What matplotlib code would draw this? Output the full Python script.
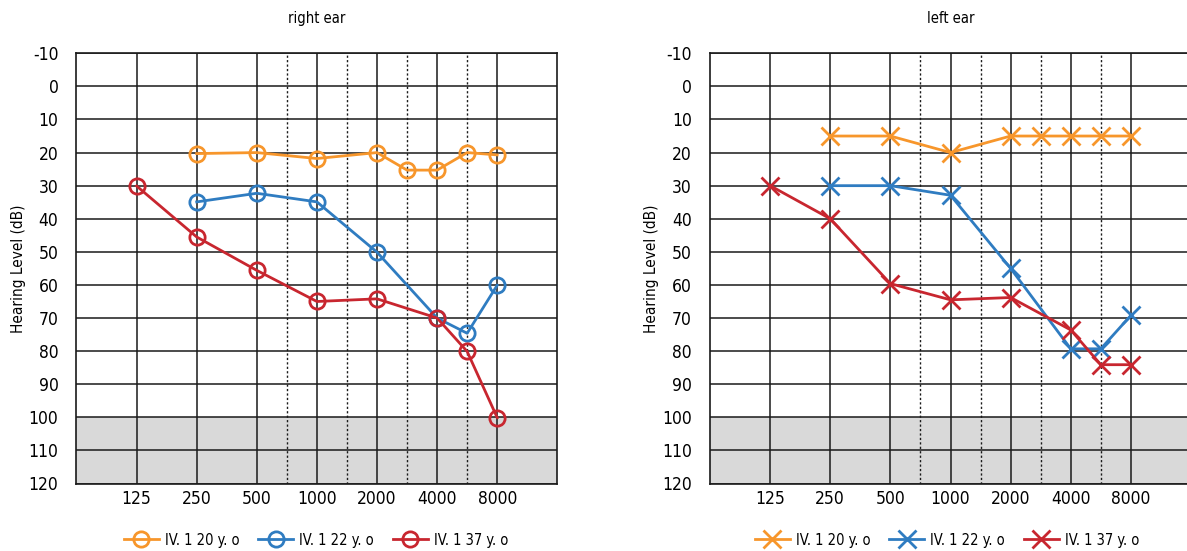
import matplotlib
matplotlib.use("Agg")
import matplotlib.pyplot as plt
from matplotlib import font_manager

# ---------------- data ----------------
freq_labels = ["125", "250", "500", "1000", "2000", "4000", "8000"]
half_octave = [750, 1500, 3000, 6000]
y_ticks = [-10, 0, 10, 20, 30, 40, 50, 60, 70, 80, 90, 100, 110, 120]
series_names = ["IV. 1 20 y. o", "IV. 1 22 y. o", "IV. 1 37 y. o"]

right_20_f = [250, 500, 1000, 2000, 3000, 4000, 6000, 8000]
right_20_v = [20.3, 20.0, 21.8, 20.0, 25.3, 25.3, 20.0, 20.7]
right_22_f = [250, 500, 1000, 2000, 4000, 6000, 8000]
right_22_v = [34.9, 32.3, 34.9, 50.1, 70.0, 74.6, 60.1]
right_37_f = [125, 250, 500, 1000, 2000, 4000, 6000, 8000]
right_37_v = [30.1, 45.5, 55.6, 65.0, 64.2, 70.0, 80.1, 100.1]

left_20_f = [250, 500, 1000, 2000, 3000, 4000, 6000, 8000]
left_20_v = [15.0, 15.0, 20.0, 15.0, 15.0, 15.0, 15.0, 15.0]
left_22_f = [250, 500, 1000, 2000, 4000, 6000, 8000]
left_22_v = [30.0, 30.0, 32.9, 55.0, 79.3, 79.3, 69.2]
left_37_f = [125, 250, 500, 1000, 2000, 4000, 6000, 8000]
left_37_v = [30.0, 40.0, 59.6, 64.5, 63.8, 73.6, 84.1, 84.1]

colors = ["#F7962B", "#2F7CC1", "#C8262F"]

# audiogram frequency scale (octaves at integer steps, half-octaves between)
freq_pos = {125: 0, 250: 1, 500: 2, 750: 2.5, 1000: 3, 1500: 3.5, 2000: 4,
            3000: 4.5, 4000: 5, 6000: 5.5, 8000: 6}

# ---------------- fonts: prefer a narrow / condensed face ----------------
narrow = None
for f in font_manager.fontManager.ttflist:
    key = (f.name + " " + f.fname).lower()
    is_narrow = ("narrow" in key or "condensed" in key or
                 str(f.stretch) in ("condensed", "semi-condensed", "extra-condensed",
                                    "ultra-condensed"))
    if not is_narrow or f.style != "normal":
        continue
    w = f.weight if isinstance(f.weight, int) else 400
    if "bold" in key or "light" in key or "thin" in key or "black" in key or "medium" in key:
        continue
    if narrow is None or abs(w - 400) < abs((narrow.weight if isinstance(narrow.weight, int) else 400) - 400):
        narrow = f
if narrow is not None:
    font_manager.fontManager.addfont(narrow.fname)
    plt.rcParams["font.family"] = [narrow.name, "DejaVu Sans"]
    plt.rcParams["font.stretch"] = narrow.stretch
    scale = 1.0
else:
    plt.rcParams["font.family"] = ["DejaVu Sans"]
    scale = 0.88

W, H = 1187, 551
fig = plt.figure(figsize=(W / 100, H / 100), dpi=100)

def px_axes(x0, x1, y0, y1):
    return fig.add_axes([x0 / W, 1 - y1 / H, (x1 - x0) / W, (y1 - y0) / H])

ax_r = px_axes(76.5, 557.3, 53.3, 483.5)
ax_l = px_axes(710.0, 1191.0, 53.3, 483.5)

def draw(ax, title, data, marker, ms, mew, legend_center):
    ax.set_xlim(-1, 7)
    ax.set_ylim(120, -10)
    ax.axhspan(100, 120, color="#D9D9D9", zorder=0, lw=0)
    for y in y_ticks:
        ax.axhline(y, color="#1a1a1a", lw=1.1, zorder=1)
    for f in freq_labels:
        ax.axvline(freq_pos[int(f)], color="#1a1a1a", lw=1.1, zorder=1)
    for f in half_octave:
        ax.axvline(freq_pos[f], color="#1a1a1a", lw=1.0, ls=(0, (1.6, 1.6)), zorder=1)
    for (fr, vals), c, name in zip(data, colors, series_names):
        xs = [freq_pos[f] for f in fr]
        ax.plot(xs, vals, color=c, lw=2.0, marker=marker, ms=ms,
                mfc="none", mec=c, mew=mew, zorder=3, label=name)
    ax.set_yticks(y_ticks)
    ax.set_yticklabels([str(v) for v in y_ticks])
    ax.set_xticks([freq_pos[int(f)] for f in freq_labels])
    ax.set_xticklabels(freq_labels)
    ax.tick_params(axis="both", length=0, labelsize=12.5 * scale, colors="black")
    ax.tick_params(axis="y", pad=13)
    ax.tick_params(axis="x", pad=5)
    for s in ax.spines.values():
        s.set_color("#1a1a1a")
        s.set_linewidth(1.2)
        s.set_zorder(2)
    ax.set_ylabel("Hearing Level (dB)", fontsize=11 * scale, labelpad=2)
    ax.set_title(title, fontsize=10.5 * scale, pad=22)
    fig.legend(*ax.get_legend_handles_labels(), loc="center",
               bbox_to_anchor=(legend_center / W, 1 - 540 / H), ncol=3,
               frameon=False, fontsize=10.5 * scale, handlelength=2.4,
               columnspacing=1.3, handletextpad=0.4)

draw(ax_r, "right ear",
     [(right_20_f, right_20_v), (right_22_f, right_22_v), (right_37_f, right_37_v)],
     "o", 11, 2.0, 316)
draw(ax_l, "left ear",
     [(left_20_f, left_20_v), (left_22_f, left_22_v), (left_37_f, left_37_v)],
     "x", 13, 2.0, 947)

fig.savefig("out.png", dpi=100)
